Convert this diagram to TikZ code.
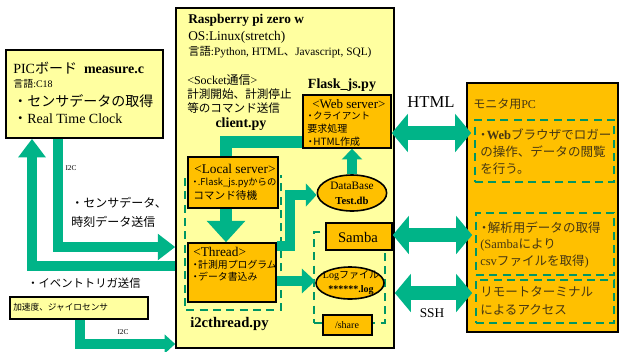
\documentclass[tikz,border=0pt]{standalone}
\usepackage{fontspec}
\setmainfont{Liberation Serif}
\newfontfamily\jpf{Noto Sans CJK JP}
\usetikzlibrary{arrows.meta,shapes.geometric,fit,calc}
\definecolor{lyel}{RGB}{255,255,160}
\definecolor{orng}{RGB}{255,192,0}
\definecolor{tgrn}{RGB}{0,180,136}
\definecolor{dgrn}{RGB}{0,150,100}
\definecolor{ptxt}{RGB}{70,55,20}
\newcommand\J[1]{{\jpf #1}}
\newcommand\Bu{\makebox[0.6em][c]{\jpf ・}}
\newcommand\fz[1]{\fontsize{#1}{#1}\selectfont}
\begin{document}
\begin{tikzpicture}[x=0.75pt,y=-0.75pt,
  ybox/.style={draw=black,line width=1.2pt,fill=lyel,inner sep=0pt},
  obox/.style={draw=black,line width=1.2pt,fill=orng,inner sep=0pt},
  dbox/.style={draw=dgrn,line width=1.4pt,dash pattern=on 6pt off 4pt,inner sep=0pt},
  oell/.style={ellipse,draw=black,line width=1.2pt,fill=orng,inner sep=0pt},
  tx/.style={inner sep=0pt,anchor=west},
  tc/.style={inner sep=0pt},
  garr/.style={draw=tgrn,line width=#1},
  darr/.style={draw=tgrn,line width=10pt,{Triangle[width=28pt,length=12pt]}-{Triangle[width=28pt,length=12pt]}}
]
\useasboundingbox (0,0) rectangle (619,351);
% main boxes
\node[ybox,fit={(176,8)(394,348)}] (rpi) {};
\node[ybox,fit={(6,50)(163,138)}] (pic) {};
\node[ybox,fit={(10,297)(148,319)}] (gyro) {};
\node[obox,fit={(467,83)(618,332)}] (pc) {};
% dashed groups
\draw[dbox] (185,178) -- (185,310) -- (281,310) -- (281,175);
\node[dbox,fit={(314,232)(385,323)}] (lgrp) {};
\node[dbox,fit={(475,120)(614,182)}] (d1) {};
\node[dbox,fit={(476,213)(614,275)}] (d2) {};
\node[dbox,fit={(476,280)(614,323)}] (d3) {};
% inner boxes
\node[obox,fit={(303,95)(391,148)}] (web) {};
\node[obox,fit={(188,157)(278,208)}] (local) {};
\node[obox,fit={(188,243)(276,302)}] (thread) {};
\node[oell,minimum width=52pt,minimum height=27pt] (db) at (352,193) {};
\node[obox,fit={(326,223)(392,250)}] (samba) {};
\node[oell,minimum width=51pt,minimum height=24pt] (log) at (350,283) {};
\node[obox,fit={(323,315)(372,335)}] (share) {};
% arrows left
\draw[garr=7pt,-{Triangle[width=19pt,length=13pt]}] (58,0 |- pic.south) |- (rpi.west |- 0,247);
\draw[garr=7pt,-{Triangle[width=20pt,length=14pt]}] (rpi.west |- 0,266) -| (32,0 |- pic.south);
\draw[garr=7pt,-{Triangle[width=14pt,length=8pt]}] (80,0 |- gyro.south) |- (rpi.west |- 0,344);
% arrows center
\draw[garr=9pt] (226,0 |- local.north) |- (web.west |- 0,142);
\draw[garr=9pt,-{Triangle[width=28pt,length=16pt]}] (226,0 |- local.south) -- (226,0 |- thread.north);
\draw[garr=7.5pt,-{Triangle[width=17pt,length=8pt]}] (thread.east |- 0,246) -| (290,195) -- (db.west |- 0,195);
\draw[garr=7pt,-{Triangle[width=15pt,length=8pt]}] (db.north) -- (web.south -| db.north);
\draw[garr=7.5pt,-{Triangle[width=18pt,length=10pt]}] (thread.east |- 0,281) -- (log.west |- 0,281);
% double arrows
\draw[darr] (web.east |- 0,133) -- ($(pc.west |- 0,133)+(5,0)$);
\draw[darr] (samba.east |- 0,235) -- ($(pc.west |- 0,235)+(6,0)$);
\draw[darr] (rpi.east |- 0,293) -- ($(pc.west |- 0,293)+(6,0)$);
% PIC texts
\node[tx,font=\fz{10.5}] (p1) at (13,68) {PIC\J{ボード}\hspace{0.5em}\textbf{measure.c}};
\node[tx,font=\fz{7.5}] (p2) at (13,84) {\J{言語}:C18};
\node[tx,font=\fz{10.5}] (p3) at (13,101) {\J{・センサデータの取得}};
\node[tx,font=\fz{10.5}] (p4) at (13,119) {\J{・}Real Time Clock};
% left labels
\node[tc,font=\fz{5.5}] (i2a) at (71,168) {I2C};
\node[tx,font=\fz{9}] (sd1) at (71,203) {\J{・センサデータ、}};
\node[tx,font=\fz{9}] (sd2) at (71,222) {\J{時刻データ送信}};
\node[tx,font=\fz{8.5}] (ev) at (27,283) {\J{・イベントトリガ送信}};
\node[tx,font=\fz{6.5}] (gy) at (13,307) {\J{加速度、ジャイロセンサ}};
\node[tc,font=\fz{5.5}] (i2b) at (123,332) {I2C};
% Raspberry texts
\node[tx,font=\fz{10}\bfseries] (r1) at (188,20) {Raspberry pi zero w};
\node[tx,font=\fz{10}] (r2) at (188,37) {OS:Linux(stretch)};
\node[tx,font=\fz{8.5}] (r3) at (188,52) {\J{言語}:Python, HTML\J{、}Javascript, SQL)};
\node[tx,font=\fz{9}] (s1) at (187,80) {<Socket\J{通信}>};
\node[tx,font=\fz{8.7}] (s2) at (187,94) {\J{計測開始、計測停止}};
\node[tx,font=\fz{8.7}] (s3) at (187,108) {\J{等のコマンド送信}};
\node[tc,font=\fz{10.5}\bfseries] (cl) at (241,124) {client.py};
\node[tc,font=\fz{10.5}\bfseries] (fl) at (342,85) {Flask\_js.py};
\node[tx,font=\fz{9.75}] (w1) at (312,104) {<Web server>};
\node[tx,font=\fz{7.2}] (w2) at (307,116) {\Bu\J{クライアント}};
\node[tx,font=\fz{7.5}] (w3) at (307,129) {\J{要求処理}};
\node[tx,font=\fz{7.5}] (w4) at (307,142) {\Bu\J{HTML作成}};
\node[tx,font=\fz{10}] (l1) at (194,169) {<Local server>};
\node[tx,font=\fz{7}] (l2) at (192,183) {\Bu\J{.Flask\_js.pyからの}};
\node[tx,font=\fz{8}] (l3) at (193,195) {\J{コマンド待機}};
\node[tx,font=\fz{10}] (th1) at (193,252) {<Thread>};
\node[tx,font=\fz{7.4}] (th2) at (192,265) {\Bu\J{計測用プログラム}};
\node[tx,font=\fz{7.4}] (th3) at (192,277) {\Bu\J{データ書込み}};
\node[tx,font=\fz{11}\bfseries] (i2t) at (190,324) {i2cthread.py};
\node[tc,font=\fz{8.5}] (dbt1) at (352,186) {DataBase};
\node[tc,font=\fz{8}\bfseries] (dbt2) at (352,201) {Test.db};
\node[tc,font=\fz{11}] (sbt) at (358,237) {Samba};
\node[tc,font=\fz{7.5}] (lg1) at (351,276) {Log\J{ファイル}};
\node[tc,font=\fz{7.5}\bfseries] (lg2) at (351,290) {******.log};
\node[tc,font=\fz{7.5}] (sh) at (347,325) {/share};
% right labels
\node[tc,font=\fz{12.5}] (html) at (431,102) {HTML};
\node[tc,font=\fz{10}] (ssh) at (432,313) {SSH};
\node[tx,font=\fz{9},text=ptxt] (pct) at (473,104) {\J{モニタ用}PC};
\node[tx,font=\fz{9.4},text=ptxt] (a1) at (479,135) {\Bu\textbf{Web}\J{ブラウザでロガー}};
\node[tx,font=\fz{9.4},text=ptxt] (a2) at (480,152) {\J{の操作、データの閲覧}};
\node[tx,font=\fz{9.4},text=ptxt] (a3) at (480,169) {\J{を行う。}};
\node[tx,font=\fz{9.4},text=ptxt] (b1) at (480,228) {\Bu\J{解析用データの取得}};
\node[tx,font=\fz{9.4},text=ptxt] (b2) at (480,245) {(Samba\J{により}};
\node[tx,font=\fz{9.4},text=ptxt] (b3) at (480,262) {csv\J{ファイルを取得})};
\node[tx,font=\fz{9.4},text=ptxt] (c1) at (480,292) {\J{リモートターミナル}};
\node[tx,font=\fz{9.4},text=ptxt] (c2) at (480,310) {\J{によるアクセス}};
\end{tikzpicture}
\end{document}
